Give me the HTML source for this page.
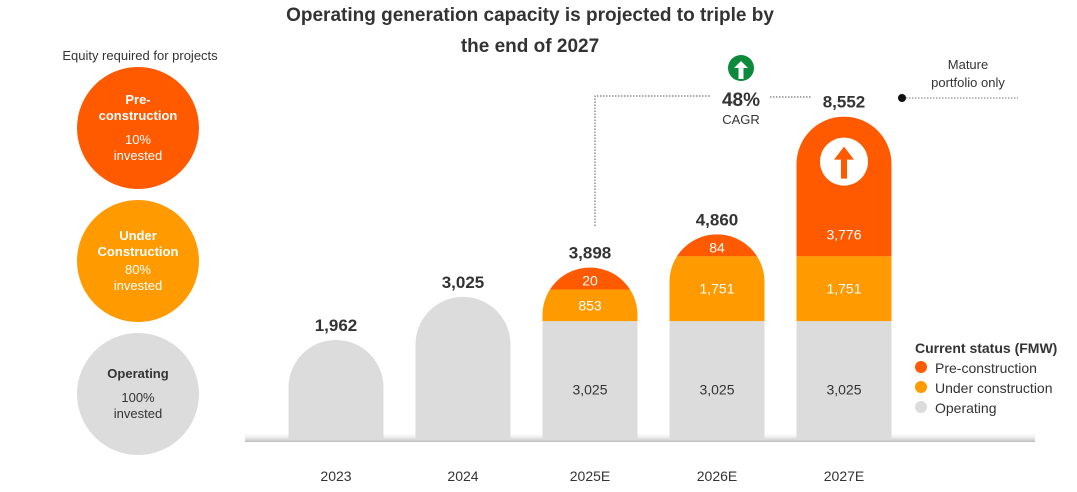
<!DOCTYPE html>
<html><head><meta charset="utf-8">
<style>
body{margin:0;width:1077px;height:492px;background:#fff;font-family:"Liberation Sans",sans-serif;overflow:hidden;position:relative;color:#333}
.abs{position:absolute}
.circ{position:absolute;width:122px;height:122px;border-radius:50%;left:77px;text-align:center;font-size:13px;display:flex;flex-direction:column;justify-content:center;align-items:center;line-height:16px}
</style></head><body>
<div class="abs" style="left:270px;top:0px;width:520px;text-align:center;font-size:19px;font-weight:bold;line-height:31px;color:#333">Operating generation capacity is projected to triple by the end of 2027</div>
<div class="abs" style="left:40px;top:48px;width:200px;text-align:center;font-size:13px">Equity required for projects</div>
<div class="circ" style="top:67px;background:#ff5a00;color:#fff"><b>Pre-<br>construction</b><div style="margin-top:8px">10%<br>invested</div></div>
<div class="circ" style="top:200px;background:#ff9a00;color:#fff"><b>Under<br>Construction</b><div style="margin-top:2px">80%<br>invested</div></div>
<div class="circ" style="top:333px;background:#dcdcdd;color:#333"><b>Operating</b><div style="margin-top:8px">100%<br>invested</div></div>

<svg id="chart" class="abs" style="left:0;top:0" width="1077" height="492">
<defs>
<linearGradient id="sh" x1="0" x2="0" y1="0" y2="1"><stop offset="0" stop-color="#fff" stop-opacity="0"/><stop offset="1" stop-color="#bbb"/></linearGradient>
</defs>
</svg>

<div class="abs" style="left:915px;top:338px;font-size:14px;line-height:20px">
<div style="font-weight:bold">Current status (FMW)</div>
<div><span style="display:inline-block;width:12px;height:12px;border-radius:50%;background:#ff5a00;margin-right:8px"></span>Pre-construction</div>
<div><span style="display:inline-block;width:12px;height:12px;border-radius:50%;background:#ff9a00;margin-right:8px"></span>Under construction</div>
<div><span style="display:inline-block;width:12px;height:12px;border-radius:50%;background:#dcdcdd;margin-right:8px"></span>Operating</div>
</div>

<script>
const categories=["2023","2024","2025E","2026E","2027E"];
const operating=[1962,3025,3025,3025,3025];
const underConstruction=[0,0,853,1751,1751];
const preConstruction=[0,0,20,84,3776];
const totals=[1962,3025,3898,4860,8552];
const showSegLabels=[false,false,true,true,true];

const NS="http://www.w3.org/2000/svg";
const svg=document.getElementById("chart");
const base=440, bw=95, x0=336, step=127;
function xC(i){return x0+i*step;}
function hSingle(v){return v>0?20.6+0.0405*v:0;}
function hStackBase(v){return v>0?0.0393*v:0;}
function hSeg(v){return v>0?Math.max(22,0.037*v):0;}
function mk(tag,attrs){const e=document.createElementNS(NS,tag);for(const a in attrs)e.setAttribute(a,attrs[a]);svg.appendChild(e);return e;}
function txt(x,y,s,size,weight,fill){const t=mk("text",{x:x,y:y,"text-anchor":"middle","font-size":size,"font-weight":weight,fill:fill,"font-family":"Liberation Sans, sans-serif"});t.textContent=s;return t;}

const sh=mk("rect",{x:245,y:base-8,width:790,height:10,fill:"url(#sh)"});



categories.forEach((cat,i)=>{
  const cx=xC(i), l=cx-bw/2, r=bw/2;
  const stacked=underConstruction[i]>0||preConstruction[i]>0;
  const h1=stacked?hStackBase(operating[i]):hSingle(operating[i]);
  const h2=hSeg(underConstruction[i]), h3=hSeg(preConstruction[i]);
  const top=base-h1-h2-h3;
  const cid="clip"+i;
  const cp=document.createElementNS(NS,"clipPath");cp.setAttribute("id",cid);
  const p=document.createElementNS(NS,"path");
  p.setAttribute("d",`M${l},${base} L${l},${top+r} A${r},${r} 0 0 1 ${l+bw},${top+r} L${l+bw},${base} Z`);
  cp.appendChild(p);svg.querySelector("defs").appendChild(cp);
  const g=document.createElementNS(NS,"g");g.setAttribute("clip-path",`url(#${cid})`);svg.appendChild(g);
  
  
  const segs=[[h1,"#dcdcdd"],[h2,"#ff9a00"],[h3,"#ff5a00"]];
  let y=base;const mids=[];
  segs.forEach(([h,col])=>{if(h>0){const rc=document.createElementNS(NS,"rect");rc.setAttribute("x",l);rc.setAttribute("y",y-h);rc.setAttribute("width",bw);rc.setAttribute("height",h);rc.setAttribute("fill",col);g.appendChild(rc);mids.push(y-h/2);}else mids.push(null);y-=h;});
  if(showSegLabels[i]){
    txt(cx,mids[0]+14,operating[i].toLocaleString("en-US"),14,"normal","#333");
    if(mids[1]!==null)txt(cx,mids[1]+5,underConstruction[i].toLocaleString("en-US"),14,"normal","#fff");
    if(mids[2]!==null)txt(cx,(i==4?top+123:mids[2]+7),preConstruction[i].toLocaleString("en-US"),14,"normal","#fff");
  }
  const tl=txt(cx,top-9,totals[i].toLocaleString("en-US"),17,"bold","#333");
  
  
  const xl=txt(cx,481,cat,14,"normal","#333");
  
  
  if(i==4){
    mk("circle",{cx:cx,cy:top+45,r:24,fill:"#fff"});
    mk("path",{d:`M${cx-10},${top+43} L${cx},${top+30} L${cx+10},${top+43} L${cx+3},${top+43} L${cx+3},${top+62} L${cx-3},${top+62} L${cx-3},${top+43} Z`,fill:"#ff5a00"});
  }
});

mk("path",{d:"M595,226 L595,96 L710,96",stroke:"#555","stroke-width":1,"stroke-dasharray":"1.5,1.5",fill:"none"});
mk("path",{d:"M770,97 L812,97",stroke:"#555","stroke-width":1,"stroke-dasharray":"1.5,1.5",fill:"none"});
mk("path",{d:"M903,98 L1018,98",stroke:"#777","stroke-width":1,"stroke-dasharray":"1.5,1.5",fill:"none"});
mk("circle",{cx:902,cy:98,r:4,fill:"#111"});
mk("circle",{cx:741,cy:68,r:13,fill:"#0a8a3a"});
mk("path",{d:"M734,68 L741,61 L748,68 L743.5,68 L743.5,79 L738.5,79 L738.5,68 Z",fill:"#fff"});
const cg=txt(741,106,"48%",19,"bold","#333");


txt(741,124,"CAGR",13,"normal","#333");
txt(968,69,"Mature",13,"normal","#333");
txt(968,87,"portfolio only",13,"normal","#333");
</script>
</body></html>
